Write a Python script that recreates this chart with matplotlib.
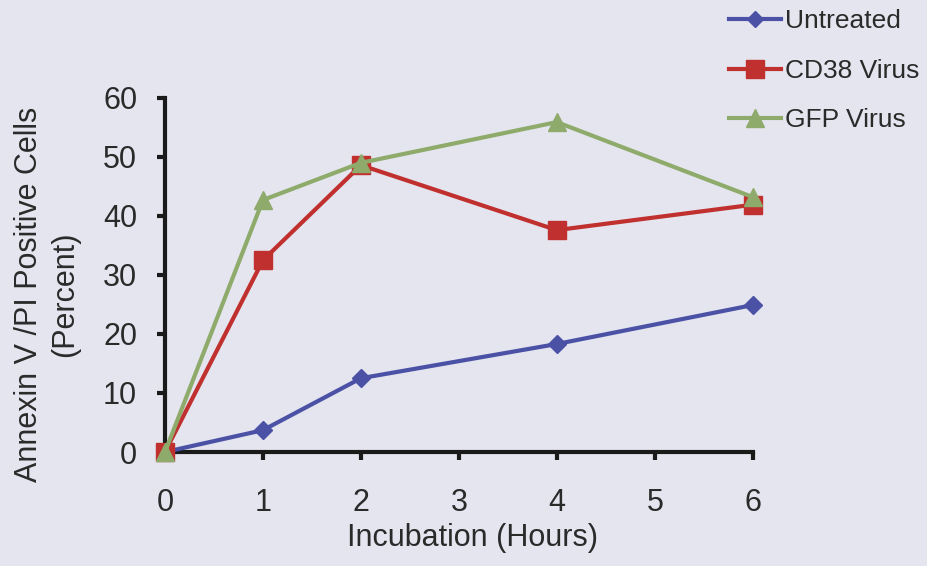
import matplotlib
matplotlib.use("Agg")
import matplotlib.pyplot as plt

hours = [0, 1, 2, 4, 6]
untreated = [0, 3.7, 12.5, 18.3, 24.9]
cd38_virus = [0, 32.5, 48.6, 37.6, 41.9]
gfp_virus = [0, 42.7, 49.0, 55.9, 43.2]

x_ticks = [0, 1, 2, 3, 4, 5, 6]
y_ticks = [0, 10, 20, 30, 40, 50, 60]

plt.rcParams['font.family'] = ['Liberation Sans', 'DejaVu Sans']

bg = '#e5e5ef'
ink = '#2a2a2a'
fig = plt.figure(figsize=(9.27, 5.66), dpi=100, facecolor=bg)
ax = fig.add_axes([0.178, 0.2014, 0.634, 0.6256], facecolor=bg)

ax.plot(hours, untreated, color='#4b52a6', lw=3, marker='D', ms=9,
        label='Untreated', clip_on=False, zorder=3)
ax.plot(hours, cd38_virus, color='#c0302e', lw=3, marker='s', ms=13,
        label='CD38 Virus', clip_on=False, zorder=4)
ax.plot(hours, gfp_virus, color='#8fab6c', lw=3, marker='^', ms=13,
        label='GFP Virus', clip_on=False, zorder=5)

ax.set_xlim(0, 6)
ax.set_ylim(0, 60)
ax.set_xticks(x_ticks)
ax.set_yticks(y_ticks)

for side in ('top', 'right'):
    ax.spines[side].set_visible(False)
for side in ('left', 'bottom'):
    ax.spines[side].set_linewidth(3)
    ax.spines[side].set_color('#1a1a1a')

ax.tick_params(direction='out', length=6, width=3, color='#1a1a1a',
               labelsize=22, labelcolor=ink)
ax.tick_params(axis='x', pad=20)
ax.tick_params(axis='y', pad=14)

ax.set_xlabel('Incubation (Hours)', fontsize=22, color=ink)
ax.xaxis.set_label_coords(0.524, -0.2, transform=ax.transAxes)
ax.set_ylabel('Annexin V /PI Positive Cells\n(Percent)', fontsize=22,
              color=ink, linespacing=1.25)
ax.yaxis.set_label_coords(-0.145, 0.446, transform=ax.transAxes)

leg = fig.legend(loc='upper right', bbox_to_anchor=(1.012, 1.016), frameon=False,
                 fontsize=19, handlelength=2.0, handletextpad=0.15,
                 labelspacing=0.96, borderaxespad=0.3, markerscale=0.95)
for t in leg.get_texts():
    t.set_color(ink)

fig.savefig('out.png', dpi=100, facecolor=bg)
